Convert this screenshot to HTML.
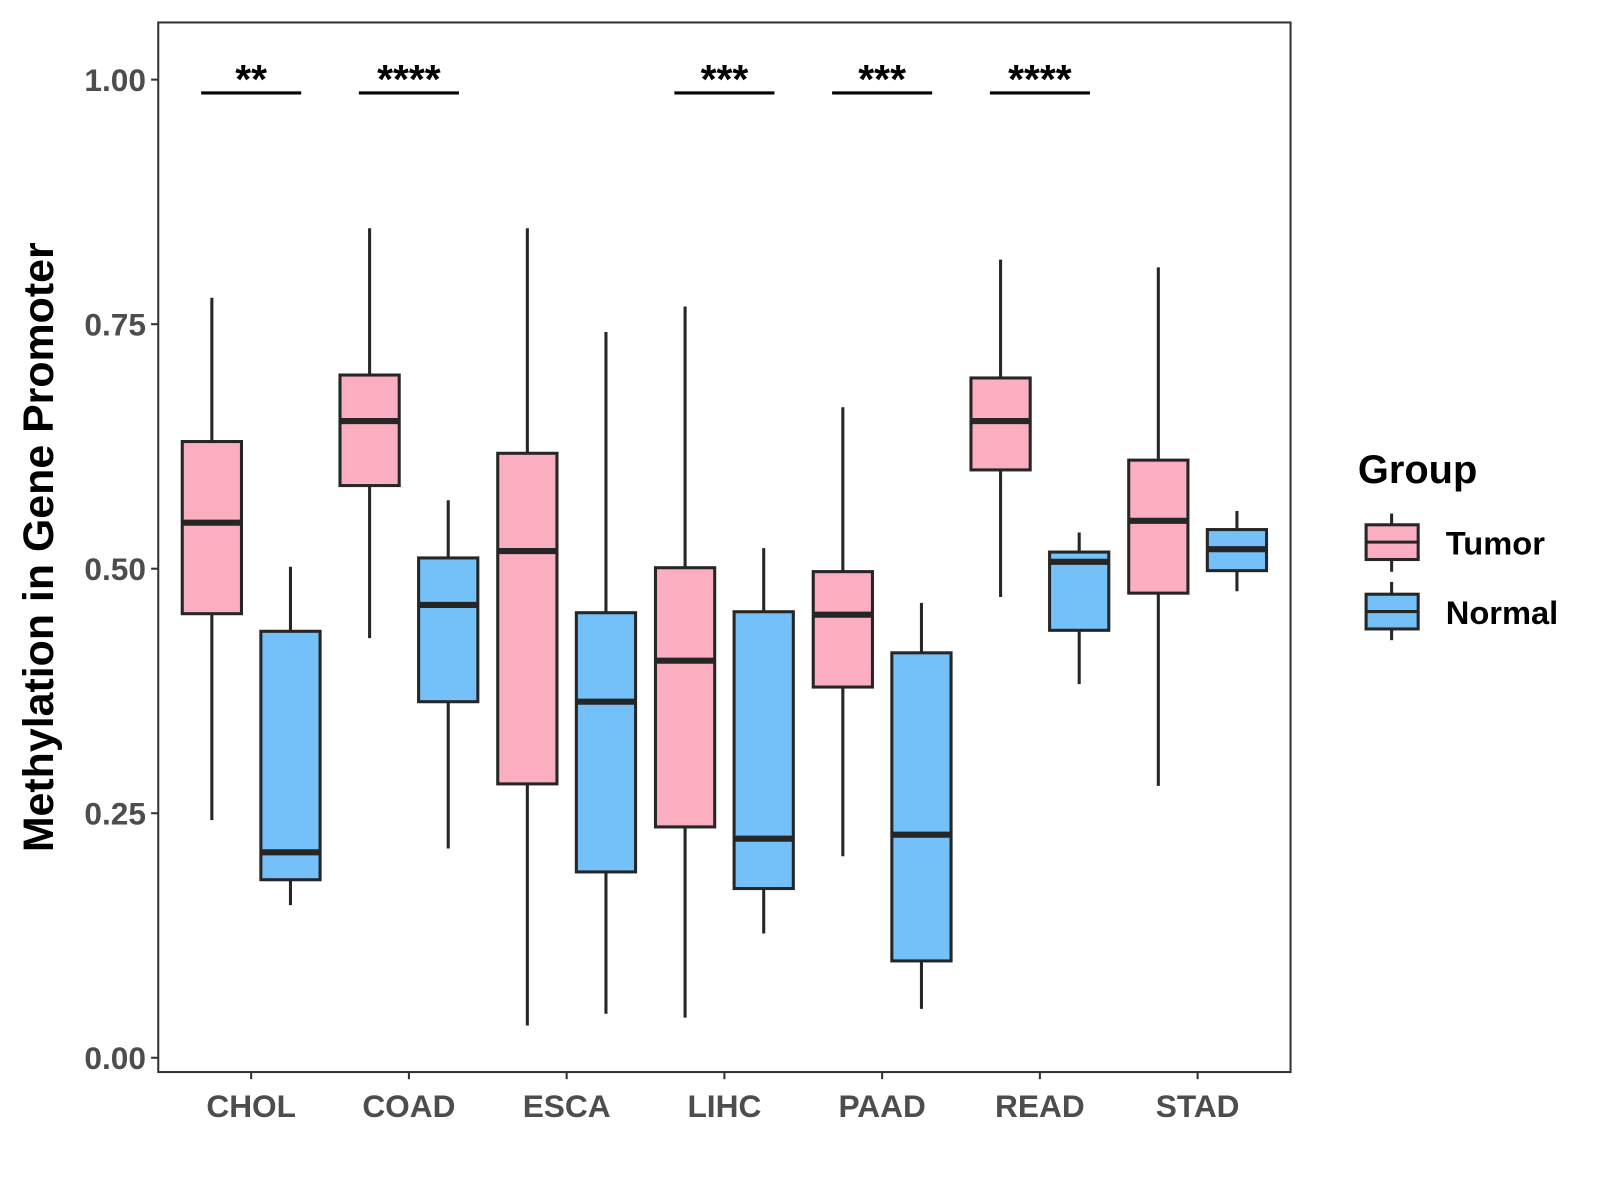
<!DOCTYPE html>
<html><head><meta charset="utf-8"><style>
html,body{margin:0;padding:0;background:#fff;}
svg{display:block;font-family:"Liberation Sans",Arial,sans-serif;}
</style></head><body>
<svg id="chart" width="1600" height="1200" viewBox="0 0 1600 1200">
<g transform="scale(1.021)">
<rect x="155" y="22" width="1109" height="1028" fill="#fff" stroke="#333" stroke-width="2"/>
<g id="marks"></g>
<text transform="translate(52,536) rotate(-90)" text-anchor="middle" font-size="42" font-weight="bold" fill="#000">Methylation in Gene Promoter</text>
<g>
<text x="1330" y="473" font-size="39" font-weight="bold">Group</text>
<g>
<line x1="1363" y1="503" x2="1363" y2="560" stroke="#262626" stroke-width="3"/>
<rect x="1338" y="514" width="51" height="34" fill="#FBAEC0" stroke="#262626" stroke-width="3"/>
<line x1="1338" y1="531" x2="1389" y2="531" stroke="#262626" stroke-width="3"/>
<text x="1416" y="543" font-size="32" font-weight="bold">Tumor</text>
</g>
<g>
<line x1="1363" y1="570" x2="1363" y2="627" stroke="#262626" stroke-width="3"/>
<rect x="1338" y="582" width="51" height="34" fill="#74C0F8" stroke="#262626" stroke-width="3"/>
<line x1="1338" y1="599" x2="1389" y2="599" stroke="#262626" stroke-width="3"/>
<text x="1416" y="611" font-size="32" font-weight="bold">Normal</text>
</g>
</g>
</g>
</svg>
<script>
const categories = ["CHOL","COAD","ESCA","LIHC","PAAD","READ","STAD"];
// [lower whisker, Q1, median, Q3, upper whisker]
const tumorStats = [
 [0.243,0.454,0.547,0.630,0.777],
 [0.429,0.585,0.651,0.698,0.848],
 [0.033,0.280,0.518,0.618,0.848],
 [0.041,0.236,0.406,0.501,0.768],
 [0.206,0.379,0.453,0.497,0.665],
 [0.471,0.601,0.651,0.695,0.816],
 [0.278,0.475,0.549,0.611,0.808]
];
const normalStats = [
 [0.156,0.182,0.210,0.436,0.502],
 [0.214,0.364,0.463,0.511,0.570],
 [0.045,0.190,0.364,0.455,0.742],
 [0.127,0.173,0.224,0.456,0.521],
 [0.050,0.099,0.228,0.414,0.465],
 [0.382,0.437,0.507,0.517,0.537],
 [0.477,0.498,0.520,0.540,0.559]
];
const sigLabels = ["**","****","","***","***","****",""];
const yTicks = [0,0.25,0.5,0.75,1.0];
const yTickLabels = ["0.00","0.25","0.50","0.75","1.00"];

const NS="http://www.w3.org/2000/svg";
const g=document.getElementById('marks');
const y=v=>1036-v*958;
const x=i=>246+i*154.5;
function mk(t,a){const e=document.createElementNS(NS,t);for(const k in a)e.setAttribute(k,a[k]);g.appendChild(e);return e;}
yTicks.forEach((v,i)=>{
 const t=mk('line',{x1:148,x2:155,y1:y(v),y2:y(v),stroke:'#333','stroke-width':2});
 
 
 const l=mk('text',{x:143,y:y(v)+11,'text-anchor':'end','font-size':31,'font-weight':'bold',fill:'#4d4d4d'});
 l.textContent=yTickLabels[i];
 
 
});
function box(cx,s,fill,name){
 const w=29;
 const wl=mk('line',{x1:cx,x2:cx,y1:y(s[0]),y2:y(s[4]),stroke:'#262626','stroke-width':3});
 
 
 const r=mk('rect',{x:cx-w,width:2*w,y:y(s[3]),height:y(s[1])-y(s[3]),fill:fill,stroke:'#262626','stroke-width':3});
 
 
 const m=mk('line',{x1:cx-w,x2:cx+w,y1:y(s[2]),y2:y(s[2]),stroke:'#262626','stroke-width':6});
 
 
}
categories.forEach((c,i)=>{
 const cx=x(i);
 box(cx-38.5,tumorStats[i],'#FBAEC0',c.toLowerCase()+'-tumor');
 box(cx+38.5,normalStats[i],'#74C0F8',c.toLowerCase()+'-normal');
 const t=mk('line',{x1:cx,x2:cx,y1:1050,y2:1057,stroke:'#333','stroke-width':2});
 
 
 const l=mk('text',{x:cx,y:1094,'text-anchor':'middle','font-size':31,'font-weight':'bold',fill:'#4d4d4d'});
 l.textContent=c;
 
 
 if(sigLabels[i]){
  const b=mk('line',{x1:cx-49,x2:cx+49,y1:91,y2:91,stroke:'#000','stroke-width':3});
  
  
  const s=mk('text',{x:cx,y:91,'text-anchor':'middle','font-size':40,'font-weight':'bold',fill:'#000'});
  s.textContent=sigLabels[i];
  
  
 }
});
</script>
</body></html>
